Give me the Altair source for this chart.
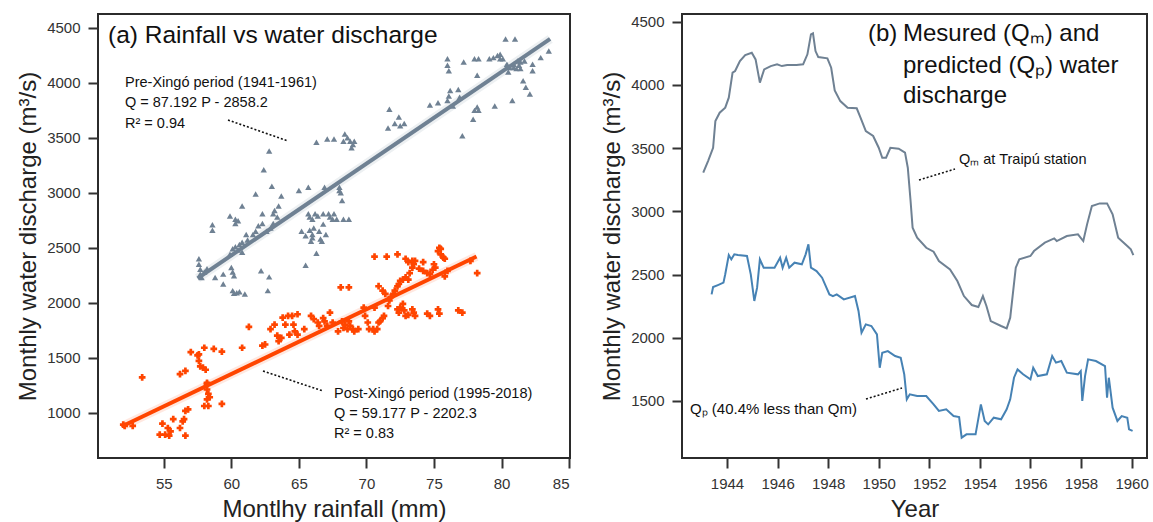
import altair as alt
import pandas as pd

# ---------------- Panel (a): rainfall vs discharge ----------------
pre_rain = [57.6, 57.6, 57.7, 57.7, 57.8, 58.0, 58.2, 58.6, 58.6, 58.8, 59.4, 59.4, 59.9, 60.0, 60.1, 60.2,
            60.3, 60.5, 60.3, 60.1, 60.2, 60.4, 60.6, 61.0, 59.9, 60.1, 60.3, 60.5, 60.8, 60.8, 61.1, 61.2,
            60.8, 60.6, 61.6, 61.8, 61.8, 62.0, 62.2, 62.3, 62.3, 62.4, 62.7, 62.8, 62.8, 63.0, 63.1, 63.1,
            63.2, 63.4, 63.5, 63.7, 62.9, 62.6, 65.0, 65.2, 65.5, 65.7, 65.7, 65.8, 66.0, 66.1, 66.0, 66.2,
            66.3, 66.4, 66.5, 66.6, 66.7, 66.8, 67.0, 67.1, 66.9, 67.2, 67.3, 67.5, 67.6, 67.6, 67.8, 68.0,
            68.2, 68.3, 68.3, 68.4, 68.6, 68.7, 68.8, 68.9, 69.0, 69.1, 68.0, 68.1, 66.3, 66.8, 65.9, 65.8,
            65.5, 66.0, 71.6, 71.7, 72.1, 72.4, 72.5, 72.8, 74.7, 75.3, 76.0, 76.1, 76.2, 76.4, 76.8, 76.9,
            76.0, 76.0, 76.1, 77.1, 77.2, 77.9, 78.0, 78.2, 78.3, 78.2, 78.0, 78.3, 79.1, 79.4, 79.7, 79.9,
            80.1, 79.5, 79.9, 80.3, 80.4, 80.5, 80.8, 80.9, 81.0, 81.2, 81.3, 81.4, 81.6, 81.8, 82.1, 82.3,
            82.3, 82.9, 83.5, 80.9, 81.1, 81.4, 80.6, 81.7]
pre_q = [2400, 2350, 2305, 2260, 2230, 2280, 2310, 2710, 2660, 2230, 2260, 2170, 2790, 2320, 2280, 2245,
         2760, 2745, 2720, 2110, 2085, 2090, 2100, 2080, 2440, 2490, 2510, 2480, 2460, 2880, 2620, 2570,
         2550, 2530, 2620, 2990, 2650, 2700, 2290, 2810, 2720, 3210, 2110, 2235, 3380, 3060, 2810, 2720,
         2840, 2780, 2880, 2970, 2680, 2650, 3020, 2650, 2340, 3050, 2810, 2780, 2760, 2680, 2620, 2810,
         3460, 2790, 2650, 2580, 2560, 2810, 2620, 3490, 3050, 2810, 2780, 2760, 3490, 2810, 2760, 3020,
         2930, 2760, 3470, 3535, 3500, 2760, 3470, 3410, 3440, 3470, 3050, 3000, 2450, 2715, 2560, 2660,
         2610, 2590, 3590, 3760, 3630, 3690, 3610, 3630, 3800, 3820, 3840, 3880, 3930, 3790, 3940, 3870,
         4220, 4160, 4110, 3520, 4190, 3670, 3750, 3780, 3750, 4070, 4220, 4220, 4220, 4230, 4250, 4260,
         4220, 3790, 4220, 4400, 4170, 4100, 3840, 4170, 4400, 4200, 4160, 4190, 4020, 3960, 3900, 4110,
         4170, 4230, 4290, 4140, 4130, 4130, 4140, 4200]

post_rain = [52.0, 52.1, 52.7, 53.4, 54.7, 54.9, 55.1, 55.3, 55.4, 55.5, 55.7, 56.2, 56.4, 56.5, 56.6, 56.8,
             56.6, 56.2, 56.6, 57.0, 57.5, 57.6, 57.7, 57.9, 58.1, 58.0, 57.6, 58.2, 58.2, 58.3, 58.2, 58.4,
             58.0, 58.3, 58.2, 59.3, 58.7, 59.3, 60.8, 61.3, 62.3, 62.5, 62.9, 63.2, 63.4, 63.5, 63.7, 63.8,
             64.2, 64.5, 64.9, 64.3, 64.7, 64.9, 64.6, 64.0, 65.4, 65.9, 66.1, 66.4, 66.5, 66.8, 66.9, 67.1,
             67.3, 67.5, 67.9, 68.2, 68.3, 68.1, 68.7, 68.4, 68.6, 68.7, 68.8, 69.0, 69.1, 69.4, 69.8, 69.9,
             70.1, 70.2, 70.5, 70.6, 70.8, 70.9, 71.0, 71.2, 70.6, 70.6, 71.3, 71.6, 71.7, 71.8, 72.0, 72.1,
             70.9, 71.2, 71.4, 72.3, 72.4, 72.5, 72.7, 72.8, 72.9, 73.1, 73.4, 73.5, 73.6, 72.3, 72.4, 72.5,
             72.7, 72.9, 73.1, 73.2, 73.4, 73.5, 73.1, 73.4, 72.9, 73.6, 74.2, 71.5, 72.3, 74.5, 74.7, 75.3,
             75.4, 74.7, 74.9, 75.0, 75.1, 75.3, 75.4, 75.5, 75.7, 75.8, 75.5, 75.8, 76.0, 76.8, 77.1, 77.7,
             78.2, 73.9, 74.2, 74.5]
post_q = [890, 880, 880, 1320, 800, 900, 800, 860, 790, 830, 940, 860, 920, 940, 1015, 1030,
          790, 1350, 1380, 1550, 1520, 1470, 1420, 1410, 1390, 1590, 1530, 1270, 1210, 1170, 1120, 1140,
          1060, 1060, 1260, 1080, 1580, 1555, 1590, 1780, 1610, 1620, 1760, 1800, 1700, 1650, 1680, 1865,
          1880, 1880, 1895, 1710, 1740, 1710, 1800, 1800, 1760, 1880, 1850, 1820, 1790, 1860, 1830, 1790,
          1910, 1820, 1740, 1830, 1770, 2140, 2140, 1800, 1760, 1830, 1790, 1760, 1740, 1760, 1955, 1880,
          1820, 1760, 1760, 1740, 1760, 1820, 1830, 1860, 1955, 2420, 1880, 1970, 2020, 2050, 2080, 2110,
          2150, 2110, 2080, 1940, 1910, 1955, 1990, 1930, 1880, 1890, 1940, 1910, 1880, 2150, 2170, 2200,
          2210, 2230, 2210, 2270, 2320, 2350, 2370, 2380, 2400, 2380, 2370, 2420, 2440, 1900, 1880, 1940,
          1900, 2260, 2300, 2350, 2320, 2470, 2500, 2440, 2410, 2400, 2490, 2240, 2290, 1930, 1910, 2380,
          2270, 2310, 2290, 2270]

# fitted lines (end points)
pre_fit_rain = [57.5, 83.6]
pre_fit_q = [2222, 4400]
post_fit_rain = [52.0, 78.15]
post_fit_q = [880, 2420]

rain_ticks = [55, 60, 65, 70, 75, 80, 85]
q_ticks_a = [1000, 1500, 2000, 2500, 3000, 3500, 4000, 4500]

# ---------------- Panel (b): time series ----------------
qm_year = [1943.06, 1943.25, 1943.45, 1943.54, 1943.71, 1943.93, 1944.07, 1944.22, 1944.32, 1944.51,
           1944.72, 1944.98, 1945.13, 1945.30, 1945.47, 1945.73, 1945.98, 1946.17, 1946.38, 1946.75,
           1947.01, 1947.18, 1947.32, 1947.40, 1947.50, 1947.61, 1947.97, 1948.12, 1948.26, 1948.48,
           1948.77, 1949.13, 1949.28, 1949.49, 1949.78, 1950.00, 1950.14, 1950.29, 1950.46, 1950.79,
           1951.04, 1951.15, 1951.26, 1951.34, 1951.52, 1951.88, 1952.17, 1952.38, 1952.82, 1953.11,
           1953.37, 1953.68, 1953.94, 1954.12, 1954.26, 1954.43, 1954.84, 1955.06, 1955.20, 1955.42,
           1955.56, 1956.00, 1956.14, 1956.57, 1956.94, 1957.04, 1957.44, 1957.88, 1958.09, 1958.24,
           1958.43, 1958.74, 1959.03, 1959.25, 1959.47, 1959.83, 1959.97, 1960.07]
qm_val = [3306, 3398, 3503, 3714, 3780, 3820, 3899, 4097, 4110, 4189,
          4236, 4255, 4202, 4018, 4123, 4149, 4163, 4149, 4157, 4157,
          4163, 4242, 4400, 4408, 4268, 4220, 4210, 4136, 3957, 3872,
          3820, 3815, 3741, 3635, 3596, 3503, 3424, 3424, 3503, 3495,
          3464, 3345, 3082, 2871, 2792, 2712, 2681, 2607, 2541, 2449,
          2330, 2259, 2243, 2330, 2251, 2132, 2093, 2074, 2159, 2554,
          2620, 2647, 2686, 2752, 2786, 2765, 2805, 2818, 2765, 2897,
          3042, 3063, 3063, 2976, 2792, 2726, 2699, 2654]

qp_year = [1943.39, 1943.45, 1943.64, 1943.86, 1943.93, 1944.07, 1944.17, 1944.29, 1944.43, 1944.79,
           1944.94, 1945.08, 1945.19, 1945.30, 1945.45, 1945.88, 1946.10, 1946.20, 1946.34, 1946.46,
           1946.67, 1946.96, 1947.11, 1947.22, 1947.32, 1947.54, 1947.76, 1948.05, 1948.19, 1948.34,
           1948.62, 1949.06, 1949.20, 1949.32, 1949.49, 1949.71, 1949.93, 1950.04, 1950.14, 1950.36,
           1950.65, 1950.87, 1951.01, 1951.11, 1951.23, 1951.52, 1951.88, 1952.17, 1952.38, 1952.67,
           1952.96, 1953.18, 1953.28, 1953.47, 1953.83, 1954.04, 1954.19, 1954.33, 1954.55, 1954.84,
           1955.06, 1955.20, 1955.35, 1955.49, 1955.71, 1956.00, 1956.11, 1956.29, 1956.65, 1956.86,
           1957.01, 1957.22, 1957.44, 1957.88, 1957.99, 1958.05, 1958.16, 1958.28, 1958.59, 1958.95,
           1959.03, 1959.10, 1959.25, 1959.44, 1959.61, 1959.83, 1959.90, 1960.04]
qp_val = [2343, 2401, 2417, 2436, 2502, 2654, 2620, 2660, 2654, 2647,
          2502, 2291, 2396, 2620, 2554, 2554, 2633, 2554, 2633, 2554,
          2594, 2581, 2660, 2739, 2554, 2528, 2475, 2343, 2330, 2343,
          2304, 2330, 2212, 2040, 2106, 2093, 2027, 1763, 1882, 1895,
          1856, 1842, 1711, 1513, 1553, 1539, 1539, 1473, 1421, 1434,
          1381, 1373, 1210, 1236, 1236, 1473, 1342, 1315, 1368, 1355,
          1434, 1513, 1684, 1750, 1711, 1671, 1763, 1697, 1711, 1856,
          1803, 1816, 1724, 1711, 1737, 1500, 1697, 1829, 1816, 1776,
          1526, 1684, 1447, 1342, 1381, 1368, 1276, 1263]

year_ticks = [1944, 1946, 1948, 1950, 1952, 1954, 1956, 1958, 1960]
q_ticks_b = [1500, 2000, 2500, 3000, 3500, 4000, 4500]

GREY = "#6f8193"
ORANGE = "#ff4500"
BLUE = "#4682b4"
FONT = "Liberation Sans"

pre_df = pd.DataFrame({"rain": pre_rain, "q": pre_q})
post_df = pd.DataFrame({"rain": post_rain, "q": post_q})
pre_fit = pd.DataFrame({"rain": pre_fit_rain, "q": pre_fit_q})
post_fit = pd.DataFrame({"rain": post_fit_rain, "q": post_fit_q})

xa = alt.X("rain:Q", scale=alt.Scale(domain=[50.13, 85.07], nice=False, zero=False),
           axis=alt.Axis(values=rain_ticks, title="Montlhy rainfall (mm)", format="d"))
ya = alt.Y("q:Q", scale=alt.Scale(domain=[587, 4627], nice=False, zero=False),
           axis=alt.Axis(values=q_ticks_a, title="Monthly water discharge (m³/s)", format="d"))


def label(text, px, py, size=15, align="left"):
    return alt.Chart(pd.DataFrame({"t": [text]})).mark_text(
        align=align, baseline="middle", fontSize=size, font=FONT, color="#111"
    ).encode(x=alt.value(px), y=alt.value(py), text="t:N")


def dotted(x1, y1, x2, y2):
    return alt.Chart(pd.DataFrame({"t": [0]})).mark_rule(
        strokeDash=[2, 2], strokeWidth=1.6, color="#111"
    ).encode(x=alt.value(x1), y=alt.value(y1), x2=alt.value(x2), y2=alt.value(y2))


pre_pts = alt.Chart(pre_df).mark_point(shape="triangle-up", filled=True, size=40, color=GREY, opacity=1).encode(x=xa, y=ya)
post_pts = alt.Chart(post_df).mark_point(shape="cross", filled=True, size=45, color=ORANGE, opacity=1).encode(x=xa, y=ya)
pre_band = alt.Chart(pre_fit).mark_line(color=GREY, strokeWidth=9, opacity=0.12).encode(x=xa, y=ya)
post_band = alt.Chart(post_fit).mark_line(color=ORANGE, strokeWidth=9, opacity=0.12).encode(x=xa, y=ya)
pre_line = alt.Chart(pre_fit).mark_line(color=GREY, strokeWidth=4).encode(x=xa, y=ya)
post_line = alt.Chart(post_fit).mark_line(color=ORANGE, strokeWidth=4).encode(x=xa, y=ya)

panel_a = alt.layer(
    pre_band, post_band, pre_pts, post_pts, pre_line, post_line,
    label("(a) Rainfall vs water discharge", 10, 22, size=24.5),
    label("Pre-Xingó period (1941-1961)", 27, 69, size=14.5),
    label("Q = 87.192 P - 2858.2", 27, 89, size=14.5),
    label("R² = 0.94", 27, 110, size=14.5),
    dotted(130, 106, 190, 127),
    label("Post-Xingó period (1995-2018)", 236, 380, size=14.5),
    label("Q = 59.177 P - 2202.3", 236, 400, size=14.5),
    label("R² = 0.83", 236, 420, size=14.5),
    dotted(165, 357, 225, 377),
).properties(width=472, height=444)

ts_m = pd.DataFrame({"year": qm_year, "q": qm_val})
ts_p = pd.DataFrame({"year": qp_year, "q": qp_val})

xb = alt.X("year:Q", scale=alt.Scale(domain=[1942.22, 1960.61], nice=False, zero=False),
           axis=alt.Axis(values=year_ticks, title="Year", format="d"))
yb = alt.Y("q:Q", scale=alt.Scale(domain=[1049, 4561], nice=False, zero=False),
           axis=alt.Axis(values=q_ticks_b, title="Monthly water discharge (m³/s)", format="d"))

line_m = alt.Chart(ts_m).mark_line(color=GREY, strokeWidth=2).encode(x=xb, y=yb)
line_p = alt.Chart(ts_p).mark_line(color=BLUE, strokeWidth=2).encode(x=xb, y=yb)

panel_b = alt.layer(
    line_m, line_p,
    label("(b)", 186, 20, size=24),
    label("Mesured (Qₘ) and", 221, 20, size=24),
    label("predicted (Qₚ) water", 221, 52, size=24),
    label("discharge", 221, 82, size=24),
    label("Qₘ at Traipú station", 277, 146, size=14.5),
    dotted(237, 166, 273, 155),
    label("Qₚ (40.4% less than Qm)", 8, 395, size=15),
    dotted(184, 385, 220, 374),
).properties(width=465, height=444)

chart = alt.hconcat(panel_a, panel_b, spacing=112, bounds="flush").properties(
    padding={"left": 15, "top": 13, "right": 0, "bottom": 0}
).configure_view(
    stroke="#2b2b2b", strokeWidth=2
).configure_axis(
    grid=False, domain=False, labelFont=FONT, titleFont=FONT, labelFontSize=15,
    labelColor="#333", tickColor="#333", tickSize=10, tickWidth=2, labelPadding=8,
    titleFontSize=24, titleFontWeight="normal", titleColor="#222", titlePadding=6
).configure_axisY(labelPadding=8)

chart.save("out.html", embed_options={"renderer": "svg", "actions": False})
